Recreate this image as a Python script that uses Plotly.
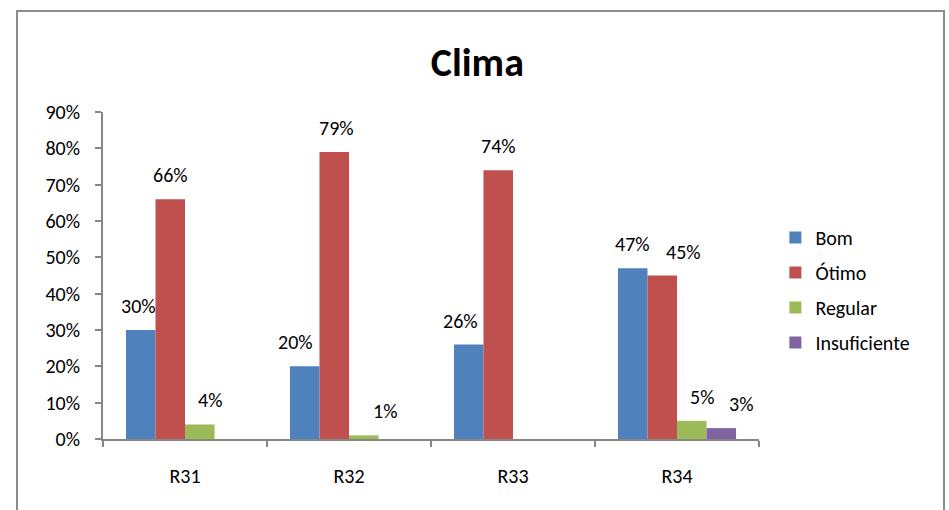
import plotly.graph_objects as go

categories = ["R31", "R32", "R33", "R34"]
series_names = ["Bom", "Ótimo", "Regular", "Insuficiente"]
bom = [0.30, 0.20, 0.26, 0.47]
otimo = [0.66, 0.79, 0.74, 0.45]
regular = [0.04, 0.01, None, 0.05]
insuficiente = [None, None, None, 0.03]
colors = ["#4F81BD", "#C0504D", "#9BBB59", "#8064A2"]
y_ticks = [0, 0.1, 0.2, 0.3, 0.4, 0.5, 0.6, 0.7, 0.8, 0.9]

# label horizontal nudges (px), as Excel places them to avoid collisions
label_dx = [
    [-2, -9, -8, 0],
    [0, 2, 0, 21],
    [10, 21, 0, 10],
    [0, 0, 0, 20],
]

FONT = "Carlito, Calibri, Lato, sans-serif"
BARGAP = 0.28
n_series = len(series_names)
bar_w = (1 - BARGAP) / n_series

fig = go.Figure()
annotations = []
all_vals = [bom, otimo, regular, insuficiente]
for i, (name, vals, col) in enumerate(zip(series_names, all_vals, colors)):
    fig.add_trace(go.Bar(
        x=categories, y=vals, name=name,
        marker=dict(color=col, line=dict(width=0)),
        legendgroup=name,
    ))
    off = -(1 - BARGAP) / 2 + bar_w * (i + 0.5)
    for j, v in enumerate(vals):
        if v is None:
            continue
        annotations.append(dict(
            x=j + off, y=v, xref="x", yref="y",
            text=f"{round(v * 100)}%", showarrow=False,
            xanchor="center", yanchor="middle",
            xshift=label_dx[i][j], yshift=24,
            font=dict(size=20, family=FONT, color="#000000"),
        ))

fig.update_layout(
    width=949, height=510,
    margin=dict(l=103, r=190, t=112, b=71),
    paper_bgcolor="white", plot_bgcolor="white",
    barmode="group", bargap=BARGAP, bargroupgap=0,
    font=dict(family=FONT, size=20, color="#000000"),
    title=dict(text="<b>Clima</b>", x=0.503, xanchor="center", xref="container",
               y=1 - 62 / 510, yanchor="middle", yref="container",
               font=dict(size=40, family=FONT, color="#000000")),
    showlegend=True,
    legend=dict(x=1.025, xanchor="left", y=(439 - 218) / 327, yanchor="top",
                font=dict(size=20, family=FONT), traceorder="grouped",
                tracegroupgap=6, bgcolor="rgba(0,0,0,0)"),
    xaxis=dict(showline=True, linecolor="#868686", linewidth=2,
               ticks="outside", ticklen=6, tickcolor="#868686", tickwidth=2,
               tickson="boundaries", showgrid=False,
               tickfont=dict(size=20, family=FONT),
               ticklabelstandoff=18),
    yaxis=dict(range=[0, 0.9], tickvals=y_ticks, tickformat=".0%",
               showline=True, linecolor="#868686", linewidth=2,
               ticks="outside", ticklen=6, tickcolor="#868686", tickwidth=2,
               showgrid=False, zeroline=False,
               tickfont=dict(size=20, family=FONT),
               ticklabelstandoff=11),
    annotations=annotations,
    shapes=[dict(type="rect", xref="paper", yref="paper",
                 x0=(17 - 103) / 656, x1=(944 - 103) / 656,
                 y0=(439 - 520) / 327, y1=(439 - 11) / 327,
                 line=dict(color="#8C8C8C", width=2), fillcolor="rgba(0,0,0,0)",
                 layer="below")],
)

fig.write_html("out.html", config={"displayModeBar": False},
               post_script="document.body.style.margin='0';document.body.style.overflow='hidden';")
